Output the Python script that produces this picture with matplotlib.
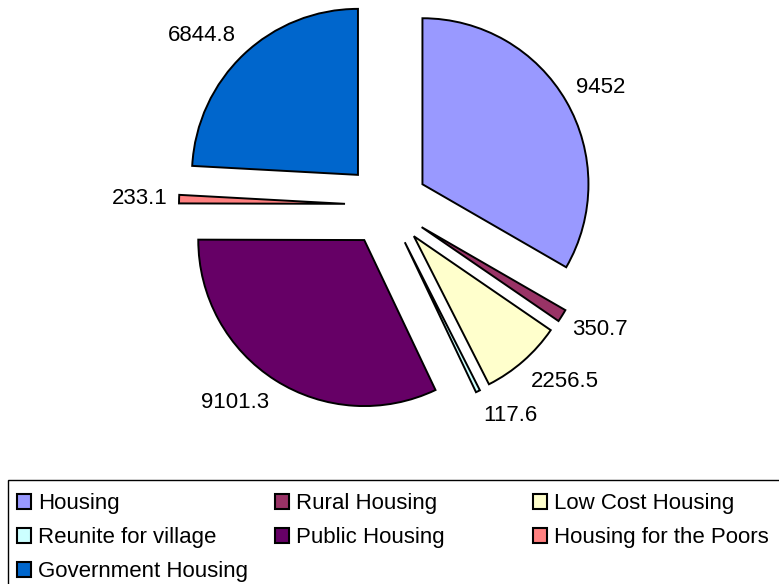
import numpy as np
import matplotlib.pyplot as plt
from matplotlib.patches import Patch, Rectangle

plt.rcParams['font.family'] = ['Liberation Sans', 'DejaVu Sans']

categories = ['Housing', 'Rural Housing', 'Low Cost Housing', 'Reunite for village',
              'Public Housing', 'Housing for the Poors', 'Government Housing']
values = [9452, 350.7, 2256.5, 117.6, 9101.3, 233.1, 6844.8]
colors = ['#9999FF', '#993366', '#FFFFCC', '#CCFFFF', '#660066', '#FF8080', '#0066CC']
value_labels = [f'{v:g}' for v in values]

W, H = 779, 584
cx, cy, r = 386.5, 205, 166   # pie centre / radius in pixels

fig = plt.figure(figsize=(W / 100, H / 100), dpi=100)
ax = fig.add_axes([0, 0, 1, 1])
wedges, texts = ax.pie(values, colors=colors, startangle=90, counterclock=False,
                       explode=[0.25] * len(values), labels=value_labels,
                       labeldistance=1.07,
                       wedgeprops=dict(edgecolor='black', linewidth=1.4),
                       textprops=dict(fontsize=16, color='black'))
# excel-ish: nudge labels away vertically like a box corner touching the ring
for w, t in zip(wedges, texts):
    ang = np.deg2rad((w.theta1 + w.theta2) / 2)
    x, y = t.get_position()
    t.set_position((x, y + 0.09 * np.sin(ang)))

ax.set_xlim(-cx / r, (W - cx) / r)
ax.set_ylim(-(H - cy) / r, cy / r)
ax.axis('off')

# legend: three equal-width columns inside one frame
left, top = 8, 480
fig.add_artist(Rectangle((left / W, -0.1), 1.2, 0.1 + 1 - top / H, transform=fig.transFigure,
                         fill=False, edgecolor='black', linewidth=1))
col_w = 258
for k in range(3):
    handles = [Patch(facecolor=c, edgecolor='black', linewidth=1.5) for c in colors[k::3]]
    fig.legend(handles, categories[k::3], loc='upper left',
               bbox_to_anchor=((left + k * col_w) / W, 1 - (top + 4) / H),
               frameon=False, fontsize=16, handlelength=0.65, handleheight=0.65,
               handletextpad=0.3, labelspacing=0.59, borderpad=0.4, borderaxespad=0)

fig.savefig('out.png', dpi=100)
